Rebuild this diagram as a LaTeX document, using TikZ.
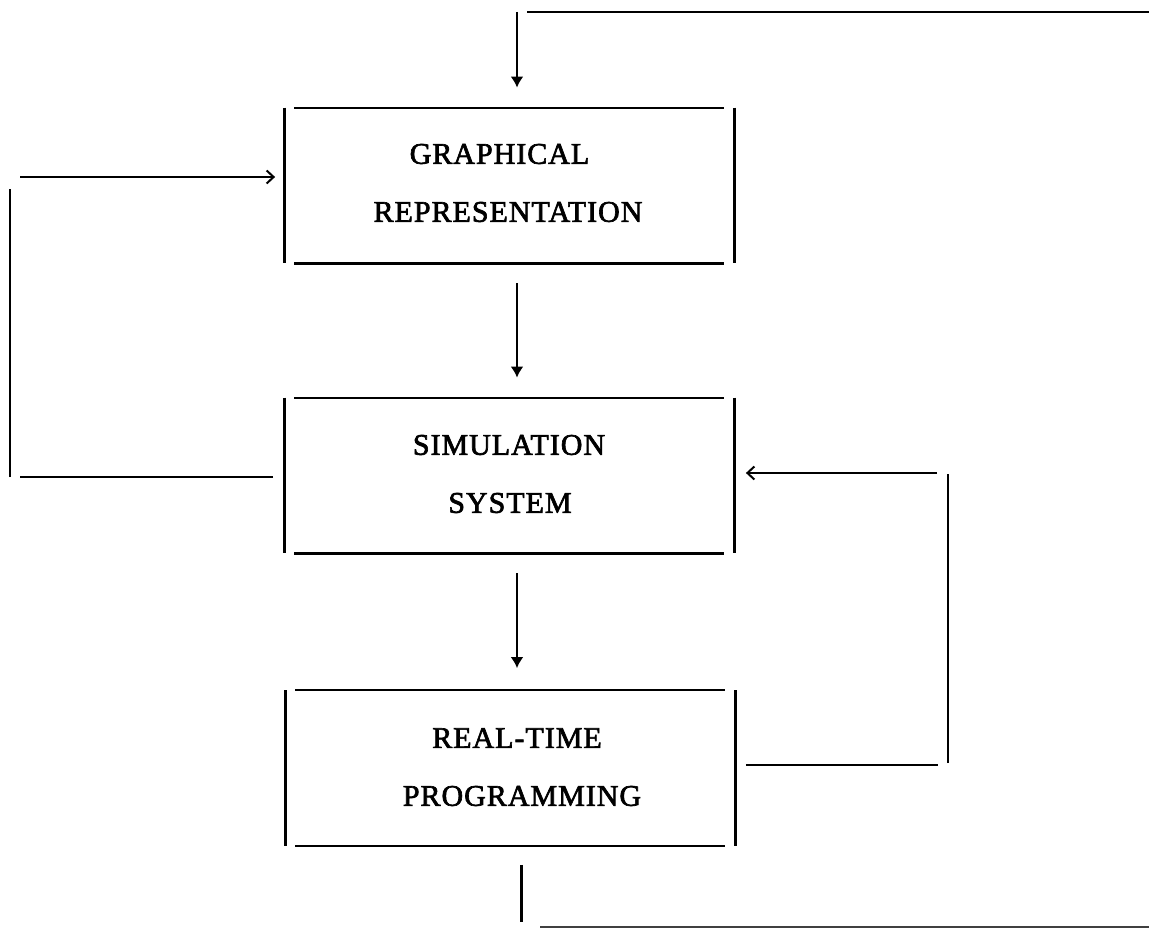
\documentclass[tikz,border=0pt]{standalone}
\usepackage{fontspec}
\newfontfamily\boxfont{Liberation Serif}[FakeBold=2.2,LetterSpace=3.3]
\usetikzlibrary{calc,arrows.meta}

% draws the four separate edges of a block, leaving open corners
\newcommand\openframe[1]{%
  \draw[sideline] (#1.north west) -- (#1.south west);
  \draw[sideline] (#1.north east) -- (#1.south east);
  \draw[edgeline] ($(#1.north west)+(10,0)$) -- ($(#1.north east)+(-11,0)$);
  \draw[edgeline] ($(#1.south west)+(10,0)$) -- ($(#1.south east)+(-11,0)$);
}

\begin{document}
\begin{tikzpicture}[x=0.5pt,y=-0.5pt,
  blockbox/.style={inner sep=0pt, minimum width=225pt, minimum height=77.5pt},
  blocktext/.style={inner sep=0pt, font=\boxfont\fontsize{15pt}{19pt}\selectfont},
  sideline/.style={line width=1.5pt},
  edgeline/.style={line width=1.1pt},
  flowline/.style={line width=1pt},
  downarrow/.style={line width=1.4pt, -{Latex[length=5.5pt,width=6.5pt]}},
  sidearrow/.style={line width=1pt, -{Straight Barb[length=3.5pt,width=6.5pt,line width=1pt]}}
]
\useasboundingbox (0,0) rectangle (1149,931);

% blocks
\node[blockbox] (g) at (509.5,185.5) {};
\node[blockbox] (s) at (509.5,475.5) {};
\node[blockbox] (r) at (510.5,768) {};
\openframe{g}
\openframe{s}
\openframe{r}

% block texts
\node[blocktext] (g1) at ($(g)+(-10,-31.5)$) {GRAPHICAL};
\node[blocktext] (g2) at ($(g)+(-1.5,26.5)$) {REPRESENTATION};
\node[blocktext] (s1) at ($(s)+(-0.5,-30.5)$) {SIMULATION};
\node[blocktext] (s2) at ($(s)+(0.5,27.5)$) {SYSTEM};
\node[blocktext] (r1) at ($(r)+(6.5,-30)$) {REAL-TIME};
\node[blocktext] (r2) at ($(r)+(11.5,28)$) {PROGRAMMING};

% input from the top
\coordinate (topin) at (1149,12);
\coordinate (topend) at (527,12);
\coordinate (topdrop) at (517,12);
\draw[flowline] (topin) -- (topend);
\draw[downarrow] (topdrop) -- ($(g.north)+(7.5,-20)$);

% main flow
\draw[downarrow] ($(g.south)+(7.5,20)$) -- ($(s.north)+(7.5,-20)$);
\draw[downarrow] ($(s.south)+(7.5,20)$) -- ($(r.north)+(6.5,-22)$);

% output at the bottom
\coordinate (botout) at (1149,927);
\coordinate (botstart) at (540,927);
\draw[sideline] ($(r.south)+(10.5,19)$) -- ($(r.south)+(10.5,76)$);
\draw[flowline, black!75] (botstart) -- (botout);

% feedback from the simulation system to the graphical representation
\coordinate (lb) at (20,477);
\coordinate (lv1) at (10,477);
\coordinate (lv2) at (10,189);
\coordinate (lt) at (20,177);
\draw[flowline] ($(s.west)+(-11,1.5)$) -- (lb);
\draw[flowline] (lv1) -- (lv2);
\draw[sidearrow] (lt) -- ($(g.west)+(-9,-8.5)$);

% feedback from real-time programming to the simulation system
\coordinate (rb) at (938,765);
\coordinate (rv1) at (948,763);
\coordinate (rv2) at (948,474);
\coordinate (rt) at (937,473);
\draw[flowline] ($(r.east)+(10,-3)$) -- (rb);
\draw[flowline] (rv1) -- (rv2);
\draw[sidearrow] (rt) -- ($(s.east)+(11,-2.5)$);
\end{tikzpicture}
\end{document}
